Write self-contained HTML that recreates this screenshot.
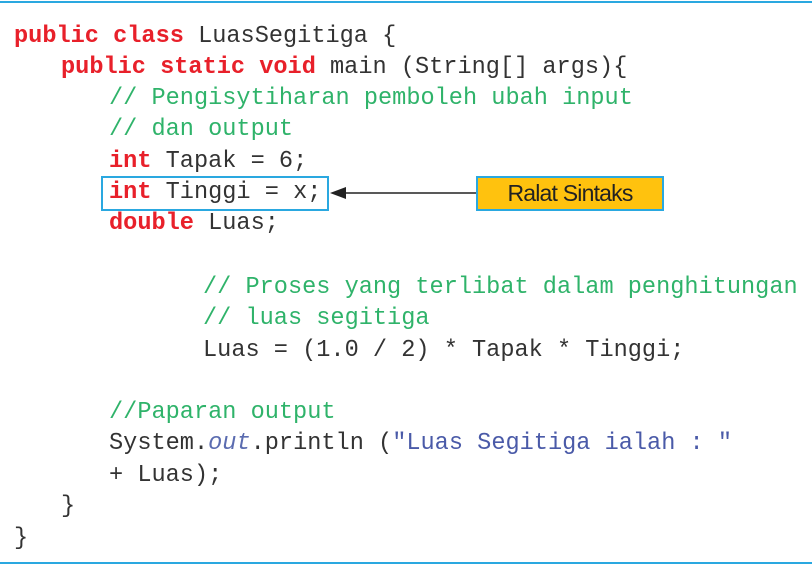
<!DOCTYPE html>
<html><head><meta charset="utf-8"><style>
body{margin:0;width:812px;height:565px;background:#fff;position:relative;overflow:hidden}
.l{position:absolute;font-family:"Liberation Mono",monospace;font-size:23.6px;line-height:30px;height:30px;white-space:pre;color:#333;margin-top:-13px}
.k{color:#e8202a;font-weight:bold}
.c{color:#2fb36a}
.o{color:#5b6cb0;font-style:italic}
.s{color:#4a5aa8}
</style></head><body>
<div style="position:absolute;left:0;top:1px;width:812px;height:2px;background:#2aa8e0"></div>
<div style="position:absolute;left:0;top:562px;width:812px;height:2px;background:#2aa8e0"></div>
<div class="l" style="left:14px;top:35px"><span class="k">public class</span> LuasSegitiga {</div>
<div class="l" style="left:61px;top:66px"><span class="k">public static void</span> main (String[] args){</div>
<div class="l c" style="left:109px;top:97px">// Pengisytiharan pemboleh ubah input</div>
<div class="l c" style="left:109px;top:128px">// dan output</div>
<div class="l" style="left:109px;top:160px"><span class="k">int</span> Tapak = 6;</div>
<div class="l" style="left:109px;top:191px"><span class="k">int</span> Tinggi = x;</div>
<div class="l" style="left:109px;top:222px"><span class="k">double</span> Luas;</div>
<div class="l c" style="left:203px;top:286px">// Proses yang terlibat dalam penghitungan</div>
<div class="l c" style="left:203px;top:317px">// luas segitiga</div>
<div class="l" style="left:203px;top:349px">Luas = (1.0 / 2) * Tapak * Tinggi;</div>
<div class="l c" style="left:109px;top:411px">//Paparan output</div>
<div class="l" style="left:109px;top:442px">System.<span class="o">out</span>.println (<span class="s">"Luas Segitiga ialah : "</span></div>
<div class="l" style="left:109px;top:474px">+ Luas);</div>
<div class="l" style="left:61px;top:505px">}</div>
<div class="l" style="left:14px;top:537px">}</div>
<div style="position:absolute;left:101px;top:176px;width:224px;height:31px;border:2px solid #2aa8e0"></div>
<svg style="position:absolute;left:0;top:0" width="812" height="565">
<line x1="345" y1="193" x2="476" y2="193" stroke="#222" stroke-width="1.5"/>
<polygon points="330,193 346,187 346,199" fill="#222"/>
</svg>
<div style="position:absolute;left:476px;top:176px;width:184px;height:31px;border:2px solid #2aa8e0;background:#ffc20e;font-family:'Liberation Sans',sans-serif;font-size:23px;line-height:31px;text-align:center;color:#222;letter-spacing:-0.8px">Ralat Sintaks</div>
</body></html>
